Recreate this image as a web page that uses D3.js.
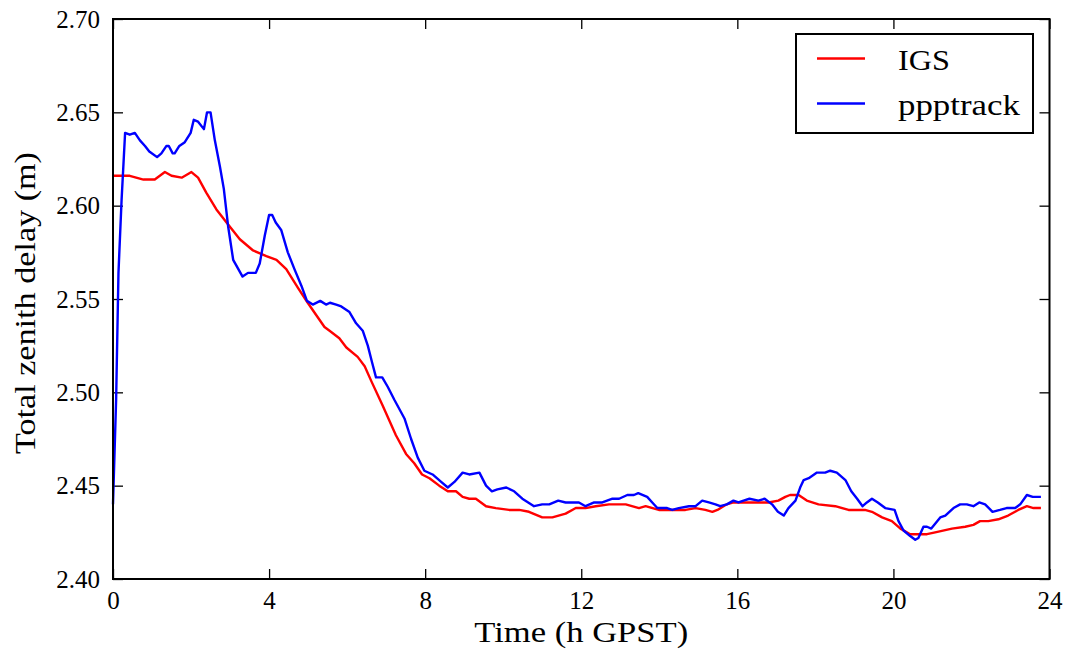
<!DOCTYPE html>
<html>
<head>
<meta charset="utf-8">
<script src="https://cdn.jsdelivr.net/npm/d3@7"></script>
<style>
  html, body { margin: 0; padding: 0; background: #fff; }
  svg { display: block; }
  text { font-family: "Liberation Serif", "Times New Roman", serif; fill: #000; }
</style>
</head>
<body>
<svg id="chart" width="1071" height="652"></svg>
<script>
// ---- data ----
const seriesNames = ["IGS", "ppptrack"];
const seriesColors = ["#ff0000", "#0000ff"];

const igsTime = [0.00,0.43,0.78,1.07,1.33,1.50,1.76,2.01,2.18,2.39,2.65,2.91,3.25,3.59,3.93,4.19,4.44,4.74,4.99,5.22,5.42,5.55,5.80,5.98,6.27,6.45,6.62,6.91,7.25,7.51,7.72,7.92,8.11,8.36,8.58,8.79,8.96,9.13,9.30,9.56,9.81,10.15,10.41,10.66,11.00,11.26,11.60,11.86,12.11,12.37,12.71,13.14,13.48,13.65,13.99,14.33,14.67,14.93,15.18,15.36,15.49,15.73,15.90,16.20,16.54,16.80,17.05,17.23,17.35,17.57,17.78,18.08,18.51,18.85,19.27,19.45,19.71,19.96,20.18,20.43,20.64,20.86,21.07,21.50,21.84,22.05,22.22,22.43,22.69,22.94,23.20,23.42,23.59,23.78];
const igsDelay = [2.616,2.616,2.614,2.614,2.618,2.616,2.615,2.618,2.615,2.607,2.598,2.591,2.582,2.576,2.573,2.571,2.566,2.556,2.548,2.541,2.535,2.533,2.529,2.524,2.519,2.514,2.506,2.493,2.477,2.467,2.462,2.456,2.454,2.450,2.447,2.447,2.444,2.443,2.443,2.439,2.438,2.437,2.437,2.436,2.433,2.433,2.435,2.438,2.438,2.439,2.440,2.440,2.438,2.439,2.437,2.437,2.437,2.438,2.437,2.436,2.437,2.440,2.441,2.441,2.441,2.441,2.442,2.444,2.445,2.445,2.442,2.440,2.439,2.437,2.437,2.436,2.433,2.431,2.427,2.424,2.424,2.424,2.425,2.427,2.428,2.429,2.431,2.431,2.432,2.434,2.437,2.439,2.438,2.438];

const pppTime = [0.00,0.08,0.14,0.22,0.31,0.43,0.56,0.69,0.82,0.93,1.13,1.24,1.37,1.43,1.53,1.58,1.70,1.84,1.99,2.07,2.18,2.33,2.41,2.50,2.61,2.74,2.84,2.95,3.08,3.32,3.46,3.66,3.76,3.89,4.00,4.08,4.17,4.31,4.48,4.65,4.83,4.97,5.12,5.31,5.46,5.56,5.72,5.85,6.06,6.23,6.40,6.53,6.64,6.74,6.90,7.04,7.21,7.47,7.64,7.81,7.98,8.19,8.41,8.58,8.75,8.96,9.13,9.39,9.56,9.71,9.85,10.08,10.28,10.49,10.79,11.00,11.18,11.41,11.60,11.94,12.11,12.33,12.54,12.80,12.97,13.18,13.35,13.46,13.69,13.82,13.95,14.20,14.33,14.50,14.76,14.93,15.10,15.27,15.44,15.56,15.73,15.90,16.03,16.16,16.31,16.54,16.70,16.89,17.04,17.19,17.31,17.49,17.61,17.70,17.83,18.04,18.25,18.38,18.55,18.77,18.92,19.07,19.21,19.32,19.45,19.60,19.79,20.03,20.13,20.26,20.43,20.56,20.64,20.77,20.86,20.97,21.20,21.33,21.54,21.71,21.88,22.05,22.20,22.35,22.54,22.73,22.90,23.12,23.25,23.42,23.57,23.78];
const pppDelay = [2.440,2.496,2.564,2.603,2.639,2.638,2.639,2.635,2.632,2.629,2.626,2.628,2.632,2.632,2.628,2.628,2.632,2.634,2.639,2.646,2.645,2.641,2.650,2.650,2.635,2.621,2.609,2.589,2.571,2.562,2.564,2.564,2.569,2.584,2.595,2.595,2.591,2.587,2.575,2.566,2.557,2.549,2.547,2.549,2.547,2.548,2.547,2.546,2.543,2.537,2.533,2.525,2.516,2.508,2.508,2.503,2.496,2.486,2.475,2.465,2.458,2.456,2.452,2.449,2.452,2.457,2.456,2.457,2.450,2.447,2.448,2.449,2.447,2.443,2.439,2.440,2.440,2.442,2.441,2.441,2.439,2.441,2.441,2.443,2.443,2.445,2.445,2.446,2.444,2.441,2.438,2.438,2.437,2.438,2.439,2.439,2.442,2.441,2.440,2.439,2.440,2.442,2.441,2.442,2.443,2.442,2.443,2.440,2.436,2.434,2.438,2.442,2.449,2.453,2.454,2.457,2.457,2.458,2.457,2.453,2.447,2.443,2.439,2.441,2.443,2.441,2.438,2.437,2.431,2.426,2.423,2.421,2.422,2.428,2.428,2.427,2.433,2.434,2.438,2.440,2.440,2.439,2.441,2.440,2.436,2.437,2.438,2.438,2.440,2.445,2.444,2.444];

const xTicks = [0, 4, 8, 12, 16, 20, 24];
const yTicks = [2.40, 2.45, 2.50, 2.55, 2.60, 2.65, 2.70];
const xLabel = "Time (h GPST)";
const yLabel = "Total zenith delay (m)";

// ---- layout ----
const plotLeft = 113, plotRight = 1049.5, plotTop = 19, plotBottom = 579;
const svg = d3.select("#chart");

const x = d3.scaleLinear().domain([0, 24]).range([plotLeft, plotRight]);
const y = d3.scaleLinear().domain([2.40, 2.70]).range([plotBottom, plotTop]);

const tickLen = 10;

// axes with inward ticks
const gB = svg.append("g").attr("transform", `translate(0,${plotBottom})`)
  .call(d3.axisBottom(x).tickValues(xTicks).tickSize(-tickLen).tickPadding(13).tickFormat(d3.format("d")));
const gT = svg.append("g").attr("transform", `translate(0,${plotTop})`)
  .call(d3.axisTop(x).tickValues(xTicks).tickSize(-tickLen).tickFormat(""));
const gL = svg.append("g").attr("transform", `translate(${plotLeft},0)`)
  .call(d3.axisLeft(y).tickValues(yTicks).tickSize(-tickLen).tickPadding(13).tickFormat(d3.format(".2f")));
const gR = svg.append("g").attr("transform", `translate(${plotRight},0)`)
  .call(d3.axisRight(y).tickValues(yTicks).tickSize(-tickLen).tickFormat(""));

[gB, gT, gL, gR].forEach(g => {
  g.select(".domain").remove();
  g.selectAll(".tick line").attr("stroke", "#000").attr("stroke-width", 1.3);
  g.selectAll(".tick text").style("font-family", "'Liberation Serif', serif").style("font-size", "25px").attr("fill", "#000");
});
gB.selectAll(".tick text").attr("dy", "0.71em").attr("y", 12);

// lines
const line = d3.line().x(d => x(d[0])).y(d => y(d[1]));
const igsData = igsTime.map((t, i) => [t, igsDelay[i]]);
const pppData = pppTime.map((t, i) => [t, pppDelay[i]]);

svg.append("path").datum(igsData).attr("d", line)
  .attr("fill", "none").attr("stroke", seriesColors[0]).attr("stroke-width", 2.4).attr("stroke-linejoin", "round");
svg.append("path").datum(pppData).attr("d", line)
  .attr("fill", "none").attr("stroke", seriesColors[1]).attr("stroke-width", 2.4).attr("stroke-linejoin", "round");

// frame
svg.append("rect").attr("x", plotLeft).attr("y", plotTop)
  .attr("width", plotRight - plotLeft).attr("height", plotBottom - plotTop)
  .attr("fill", "none").attr("stroke", "#000").attr("stroke-width", 2);

// axis labels
svg.append("text").attr("x", (plotLeft + plotRight) / 2).attr("y", 642)
  .attr("text-anchor", "middle").style("font-size", "30px")
  .attr("textLength", 214).attr("lengthAdjust", "spacingAndGlyphs")
  .text(xLabel);
svg.append("text").attr("transform", `translate(35,${(plotTop + plotBottom) / 2 + 4}) rotate(-90)`)
  .attr("text-anchor", "middle").style("font-size", "30px")
  .attr("textLength", 302).attr("lengthAdjust", "spacingAndGlyphs")
  .text(yLabel);

// legend
const lg = svg.append("g");
lg.append("rect").attr("x", 796).attr("y", 34).attr("width", 237).attr("height", 99)
  .attr("fill", "#fff").attr("stroke", "#000").attr("stroke-width", 2);
const legendY = [58.5, 103.5];
const legendW = [52, 122];
seriesNames.forEach((name, i) => {
  lg.append("line").attr("x1", 817).attr("x2", 865).attr("y1", legendY[i]).attr("y2", legendY[i])
    .attr("stroke", seriesColors[i]).attr("stroke-width", 2.4);
  lg.append("text").attr("x", 898).attr("y", legendY[i] + 11)
    .style("font-size", "30px")
    .attr("textLength", legendW[i]).attr("lengthAdjust", "spacingAndGlyphs")
    .text(name);
});
</script>
</body>
</html>
